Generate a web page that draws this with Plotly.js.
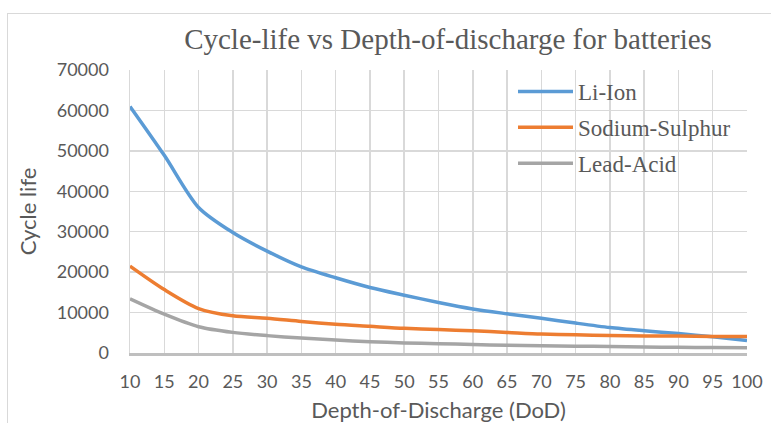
<!DOCTYPE html>
<html><head><meta charset="utf-8">
<script src="https://cdn.plot.ly/plotly-3.0.1.min.js"></script>
<style>
html,body{margin:0;padding:0;background:#fff;width:771px;height:423px;overflow:hidden;}
#frame{position:absolute;left:7px;top:13px;width:900px;height:600px;border:1px solid #d9d9d9;box-sizing:border-box;}
#chart{position:absolute;left:0;top:0;width:771px;height:423px;}
</style></head>
<body>
<div id="frame"></div>
<div id="chart"></div>
<script>
const dod = [10,15,20,25,30,35,40,45,50,55,60,65,70,75,80,85,90,95,100];
const liIon = [61000,48900,36000,29800,25200,21300,18600,16200,14300,12500,10900,9700,8600,7400,6300,5500,4800,4000,3100];
const sodiumSulphur = [21500,15700,11000,9200,8600,7800,7100,6600,6100,5800,5500,5100,4700,4500,4300,4200,4200,4100,4100];
const leadAcid = [13400,9600,6500,5100,4300,3700,3200,2800,2500,2300,2100,1900,1800,1700,1600,1500,1400,1350,1300];
const yTicks = [0,10000,20000,30000,40000,50000,60000,70000];
const names = ['Li-Ion','Sodium-Sulphur','Lead-Acid'];
const colors = ['#5b9bd5','#ed7d31','#a5a5a5'];
const series = [liIon, sodiumSulphur, leadAcid];

const traces = series.map((s,i)=>({
  x: dod, y: s, name: names[i], legendgroup:'g'+i, type:'scatter', mode:'lines',
  line:{color:colors[i], width:3.5, shape:'spline', smoothing:0.8}
}));

const sans = 'Lato, sans-serif';
const layout = {
  width:771, height:423,
  margin:{l:130, r:24, t:70, b:70},
  paper_bgcolor:'rgba(0,0,0,0)', plot_bgcolor:'rgba(0,0,0,0)',
  title:{text:'Cycle-life vs Depth-of-discharge for batteries', x:448/771, xanchor:'center', y:1-39/423, yanchor:'middle',
    font:{family:'Liberation Serif, serif', size:29, color:'#595959'}},
  xaxis:{range:[10,100], tickvals:dod, ticktext:dod.map(String), showgrid:true, gridcolor:'#d9d9d9', gridwidth:1.5,
    zeroline:false, showline:true, linecolor:'#bfbfbf', linewidth:2.5, ticks:'', ticklabelstandoff:11,
    ticklabeloverflow:'allow',
    tickfont:{family:sans, size:18, color:'#595959'},
    title:{text:'Depth-of-Discharge (DoD)', standoff:14, font:{family:sans, size:22, color:'#595959'}}},
  yaxis:{range:[0,70000], tickvals:yTicks, ticktext:yTicks.map(String), showgrid:true, gridcolor:'#d9d9d9', gridwidth:1.5, zeroline:false,
    showline:true, linecolor:'#d9d9d9', linewidth:1.5, ticks:'', ticklabelstandoff:16,
    tickfont:{family:sans, size:18, color:'#595959'},
    title:{text:'Cycle life', standoff:14, font:{family:sans, size:22, color:'#595959'}}},
  legend:{x:(513-130)/617, y:1.0, xanchor:'left', yanchor:'top', bgcolor:'rgba(0,0,0,0)',
    itemwidth:55, tracegroupgap:3,
    font:{family:'Liberation Serif, serif', size:23, color:'#595959'}},
  showlegend:true
};
Plotly.newPlot('chart', traces, layout, {displayModeBar:false, staticPlot:true});
</script>
</body></html>
